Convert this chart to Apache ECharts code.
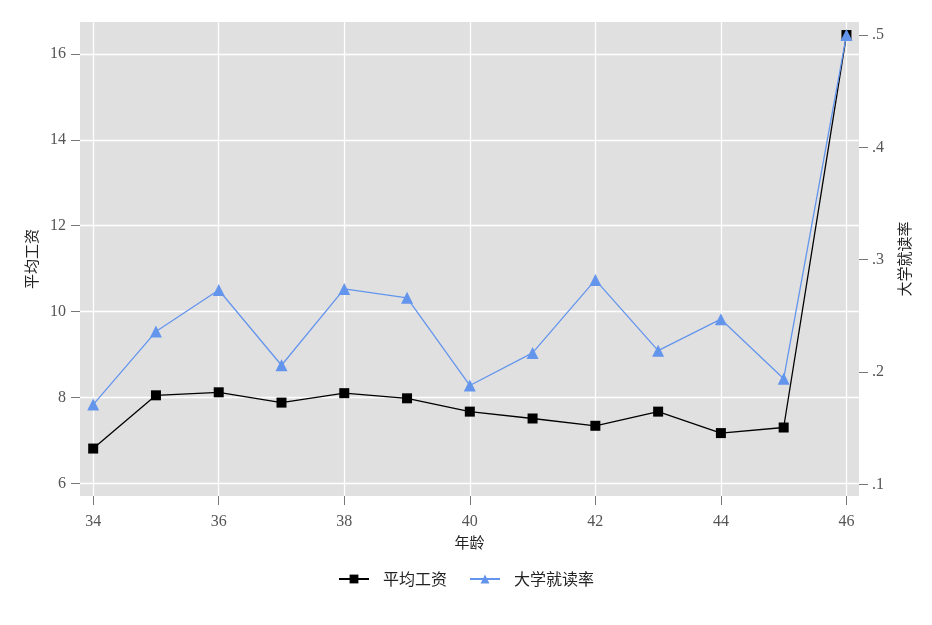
<!DOCTYPE html>
<html lang="zh">
<head>
<meta charset="utf-8">
<script src="https://cdn.jsdelivr.net/npm/echarts@6/dist/echarts.min.js"></script>
<style>
    html, body { margin: 0; padding: 0; background: #fff; }
    #main { width: 932px; height: 625px; }
</style>
</head>
<body>
<div id="main"></div>
<script type="text/javascript">
    // ages on the x axis
    var ages = [34, 35, 36, 37, 38, 39, 40, 41, 42, 43, 44, 45, 46];
    // 平均工资 (left axis)
    var wage = [6.81, 8.05, 8.12, 7.88, 8.10, 7.98, 7.67, 7.51, 7.34, 7.67, 7.17, 7.30, 16.44];
    // 大学就读率 (right axis)
    var college = [0.171, 0.236, 0.273, 0.206, 0.274, 0.266, 0.188, 0.217, 0.282, 0.219, 0.247, 0.194, 0.500];

    var xTicks = [34, 36, 38, 40, 42, 44, 46];
    var leftTicks = [6, 8, 10, 12, 14, 16];
    var rightTicks = [0.1, 0.2, 0.3, 0.4, 0.5];

    var numFont = '"Liberation Serif", "DejaVu Serif", serif';
    var cjkFont = '"Noto Sans CJK SC", "Noto Sans", sans-serif';

    function pairs(ys) {
        var out = [];
        for (var i = 0; i < ages.length; i++) {
            out.push([ages[i], ys[i]]);
        }
        return out;
    }

    var chart = echarts.init(document.getElementById('main'));

    chart.setOption({
        animation: false,
        backgroundColor: '#fff',
        grid: {
            left: 80, right: 73, top: 22, bottom: 129,
            show: true, backgroundColor: '#e0e0e0', borderWidth: 0
        },
        legend: {
            bottom: 33,
            left: 'center',
            itemWidth: 30,
            itemHeight: 11,
            itemGap: 22,
            textStyle: { color: '#222', fontFamily: cjkFont, fontSize: 16, padding: [0, 0, 0, 9] },
            data: ['平均工资', '大学就读率']
        },
        xAxis: {
            type: 'value',
            min: 33.79, max: 46.2,
            name: '年龄',
            nameLocation: 'middle',
            nameGap: 35,
            nameTextStyle: { color: '#222', fontFamily: cjkFont, fontSize: 15 },
            axisLine: { show: false },
            axisTick: { show: true, length: 9, customValues: xTicks, lineStyle: { color: '#777' } },
            axisLabel: { customValues: xTicks, margin: 18, color: '#555', fontFamily: numFont, fontSize: 16 },
            splitLine: { show: true, lineStyle: { color: '#fff', width: 1.3 } }
        },
        yAxis: [{
            type: 'value',
            position: 'left',
            min: 5.705, max: 16.744,
            name: '平均工资',
            nameLocation: 'middle',
            nameRotate: 90,
            nameGap: 38,
            nameTextStyle: { color: '#222', fontFamily: cjkFont, fontSize: 15 },
            axisLine: { show: false },
            axisTick: { show: true, length: 9, customValues: leftTicks, lineStyle: { color: '#777' } },
            axisLabel: { customValues: leftTicks, margin: 14, color: '#555', fontFamily: numFont, fontSize: 16 },
            splitLine: { show: true, lineStyle: { color: '#fff', width: 1.3 } }
        }, {
            type: 'value',
            position: 'right',
            min: 0.0896, max: 0.5116,
            name: '大学就读率',
            nameLocation: 'middle',
            nameRotate: 90,
            nameGap: 38,
            nameTextStyle: { color: '#222', fontFamily: cjkFont, fontSize: 15 },
            axisLine: { show: false },
            axisTick: { show: true, length: 9, customValues: rightTicks, lineStyle: { color: '#777' } },
            axisLabel: {
                customValues: rightTicks, margin: 13, color: '#555', fontFamily: numFont, fontSize: 16,
                formatter: function (v) { return v.toFixed(1).replace(/^0/, ''); }
            },
            splitLine: { show: false }
        }],
        series: [{
            name: '平均工资',
            type: 'line',
            yAxisIndex: 0,
            data: pairs(wage),
            symbol: 'rect',
            symbolSize: 10,
            itemStyle: { color: '#000' },
            lineStyle: { color: '#000', width: 1.3 }
        }, {
            name: '大学就读率',
            type: 'line',
            yAxisIndex: 1,
            data: pairs(college),
            symbol: 'triangle',
            symbolSize: 12,
            itemStyle: { color: '#6495ed' },
            lineStyle: { color: '#6495ed', width: 1.3 }
        }]
    });
</script>
</body>
</html>
